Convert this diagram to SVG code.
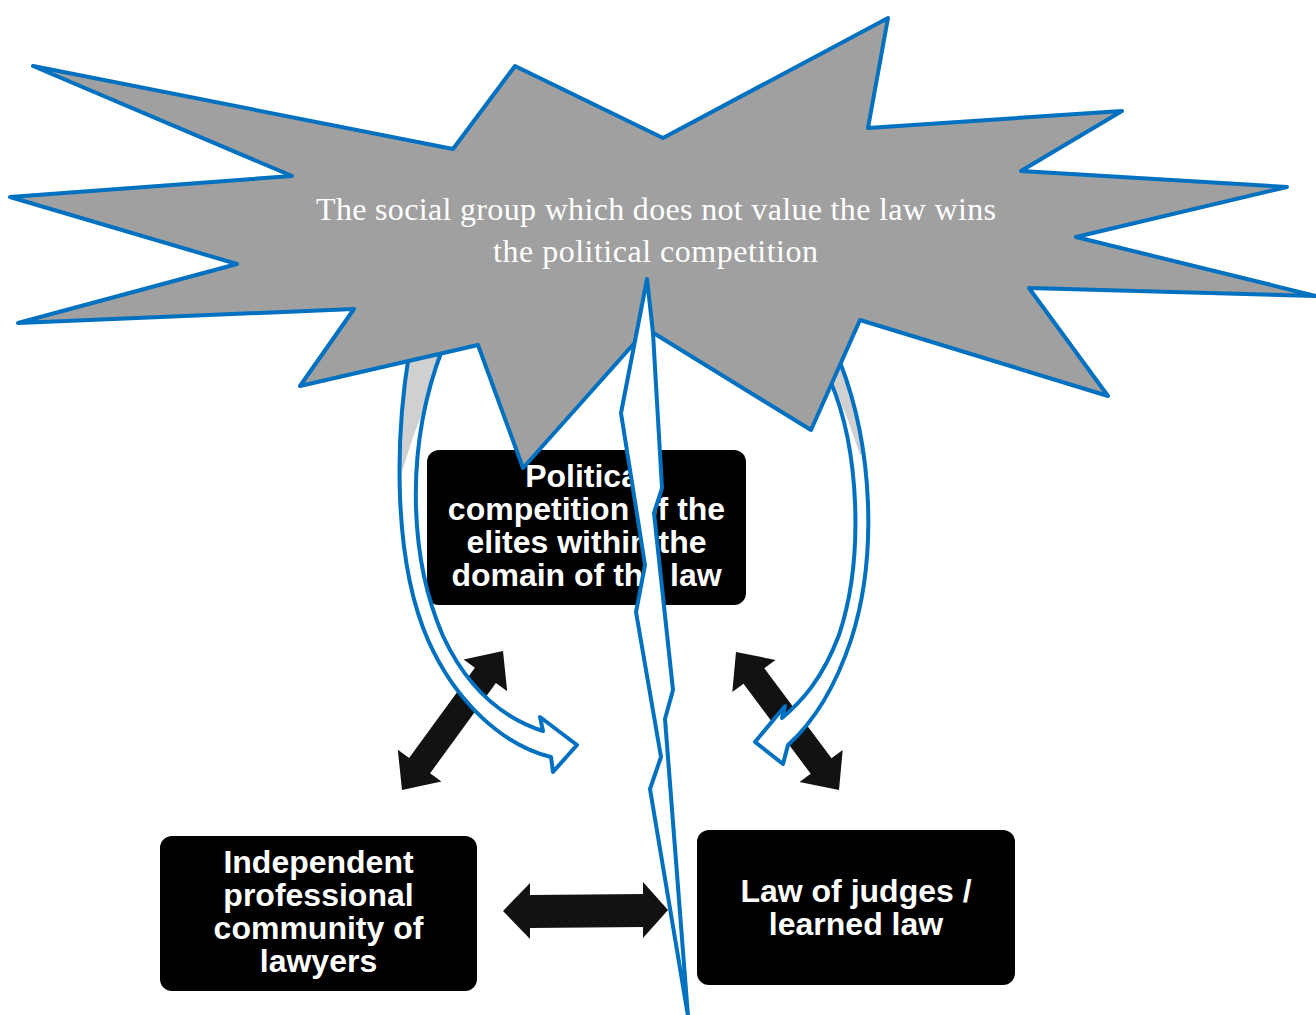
<svg xmlns="http://www.w3.org/2000/svg" width="1316" height="1015" viewBox="0 0 1316 1015">
<defs>
<style>
.box{fill:#000}
.bt{fill:#fff;font-family:"Liberation Sans",Arial,sans-serif;font-weight:bold;font-size:32px;text-anchor:middle}
.dbl{fill:#121212}
.blue{stroke:#0070c0;stroke-width:4;stroke-linejoin:round}
.st{fill:#fff;font-family:"Liberation Serif","Times New Roman",serif;font-size:32px;text-anchor:middle}
</style>
<clipPath id="clipL"><path d="M409,354 C395,440 393,560 428,640 C456,703 503,745 551,757 L553,772 L577,745 L540,717 L543,731 C503,718 468,690 443,636 C410,560 404,450 442,350 Z"/></clipPath>
<clipPath id="clipR"><path d="M840,362 C874,450 877,560 851,640 C832,697 808,727 788,745 L783,764 L755,742 L785,706 L782,718 C801,702 822,680 839,635 C864,560 860,450 830,380 Z"/></clipPath>
</defs>
<rect width="1316" height="1015" fill="#fff"/>

<g id="connectors">
  <polygon class="dbl" points="503,651 507.2,691.2 495.9,682.9 430.1,773.3 441.4,781.6 402,790 397.8,749.8 409.1,758.1 474.9,667.7 463.6,659.4"/>
  <polygon class="dbl" points="736,652 775.5,659.9 764.3,668.2 831.5,758.2 842.7,749.9 839,790 799.5,782.1 810.7,773.8 743.5,683.8 732.3,692.1"/>
  <polygon class="dbl" points="503,911 530,883 530,895 643,894 643,882 668,910 643,938 643,927 530,928 530,939"/>
</g>

<g id="node-political">
  <rect class="box" x="427" y="450" width="319" height="155" rx="12"/>
  <text class="bt" x="586.5" y="487">Political</text>
  <text class="bt" x="586.5" y="520">competition of the</text>
  <text class="bt" x="586.5" y="553">elites within the</text>
  <text class="bt" x="586.5" y="586">domain of the law</text>
</g>

<g id="node-lawyers">
  <rect class="box" x="160" y="836" width="317" height="155" rx="12"/>
  <text class="bt" x="318.5" y="873">Independent</text>
  <text class="bt" x="318.5" y="906">professional</text>
  <text class="bt" x="318.5" y="939">community of</text>
  <text class="bt" x="318.5" y="972">lawyers</text>
</g>

<g id="node-judges">
  <rect class="box" x="697" y="830" width="318" height="155" rx="12"/>
  <text class="bt" x="856" y="902">Law of judges /</text>
  <text class="bt" x="856" y="935">learned law</text>
</g>

<g id="curved-arrow-left">
  <path fill="#fff" d="M409,354 C395,440 393,560 428,640 C456,703 503,745 551,757 L553,772 L577,745 L540,717 L543,731 C503,718 468,690 443,636 C410,560 404,450 442,350 Z"/>
  <polygon fill="#d0d0d0" clip-path="url(#clipL)" points="390,340 455,340 440,365 412,440 401,475 388,475"/>
  <path class="blue" fill="none" d="M409,354 C395,440 393,560 428,640 C456,703 503,745 551,757 L553,772 L577,745 L540,717 L543,731 C503,718 468,690 443,636 C410,560 404,450 442,350 Z"/>
</g>

<g id="curved-arrow-right">
  <path fill="#fff" d="M840,362 C874,450 877,560 851,640 C832,697 808,727 788,745 L783,764 L755,742 L785,706 L782,718 C801,702 822,680 839,635 C864,560 860,450 830,380 Z"/>
  <polygon fill="#d0d0d0" clip-path="url(#clipR)" points="815,340 862,340 872,445 860,455 848,420"/>
  <path class="blue" fill="none" d="M840,362 C874,450 877,560 851,640 C832,697 808,727 788,745 L783,764 L755,742 L785,706 L782,718 C801,702 822,680 839,635 C864,560 860,450 830,380 Z"/>
</g>

<g id="node-star">
  <polygon class="blue" fill="#a0a0a0" points="33,66 453,149 515,66 663,138 888,18 868,128 1122,111 1021,171 1287,187 1076,237 1316,296 1029,288 1108,396 860,320 811,430 647,329 523,468 478,345 300,386 354,309 18,323 237,264 10,197 292,176"/>
  <text class="st" x="656" y="220" textLength="680" lengthAdjust="spacing">The social group which does not value the law wins</text>
  <text class="st" x="655.5" y="262" textLength="325" lengthAdjust="spacing">the political competition</text>
</g>

<g id="lightning">
  <polygon class="blue" fill="#fff" points="647,279 653,333 662,488 654,513 673,690 665,719 688,1016 650,789 661,757 636,612 645,565 621,413"/>
</g>
</svg>
